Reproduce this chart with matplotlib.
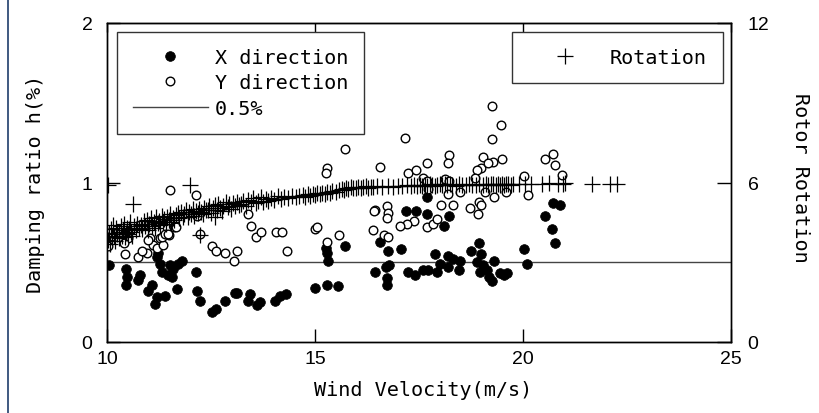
import matplotlib
matplotlib.use('Agg')
import matplotlib.pyplot as plt
from matplotlib.lines import Line2D

# damping ratio, X direction (filled circles)
x_dir_v = [10.05, 10.46, 10.48, 10.46, 10.79, 10.75, 11.08, 10.99, 11.20, 11.15,
           11.39, 11.20, 11.27, 11.23, 11.51, 11.58, 11.32, 11.46, 11.56, 11.80,
           11.70, 11.68, 12.14, 12.16, 12.24, 12.52, 12.62, 12.84, 13.08, 13.12,
           13.44, 13.39, 13.60, 13.68, 14.04, 14.16, 14.30, 15.00, 15.29, 15.55,
           15.26, 15.29, 15.31, 15.72, 16.56, 16.75, 17.07, 16.44, 16.70, 16.78,
           16.73, 16.73, 17.24, 17.40, 17.60, 17.72, 17.93, 17.19, 17.43, 17.70,
           17.70, 18.22, 18.10, 17.88, 18.00, 18.20, 18.32, 18.49, 18.20, 18.46,
           18.75, 18.94, 19.00, 18.89, 19.04, 18.97, 19.13, 19.18, 19.25, 19.30,
           19.45, 19.55, 19.62, 20.02, 20.10, 20.53, 20.70, 20.77, 20.72, 20.89]
x_dir_h = [0.48, 0.46, 0.41, 0.36, 0.42, 0.39, 0.36, 0.32, 0.28, 0.24,
           0.29, 0.53, 0.49, 0.56, 0.48, 0.46, 0.44, 0.42, 0.41, 0.51,
           0.49, 0.33, 0.44, 0.32, 0.26, 0.19, 0.21, 0.26, 0.31, 0.31,
           0.30, 0.26, 0.23, 0.25, 0.26, 0.29, 0.30, 0.34, 0.36, 0.35,
           0.59, 0.56, 0.51, 0.60, 0.63, 0.57, 0.58, 0.44, 0.47, 0.48,
           0.40, 0.36, 0.44, 0.42, 0.45, 0.45, 0.44, 0.82, 0.82, 0.91,
           0.80, 0.79, 0.73, 0.55, 0.49, 0.54, 0.52, 0.51, 0.47, 0.45,
           0.57, 0.62, 0.55, 0.50, 0.48, 0.44, 0.45, 0.41, 0.38, 0.51,
           0.43, 0.42, 0.43, 0.58, 0.49, 0.79, 0.71, 0.62, 0.87, 0.86]

# damping ratio, Y direction (open circles)
y_dir_v = [15.72, 15.29, 15.26, 11.51, 12.14, 13.39, 13.46, 13.58, 13.70, 14.06,
           14.20, 14.33, 15.00, 15.05, 15.29, 15.58, 12.52, 12.62, 12.84, 13.12,
           13.05, 10.03, 10.43, 10.75, 10.96, 10.84, 11.03, 11.10, 11.20, 11.27,
           11.35, 11.32, 11.50, 11.39, 11.60, 10.50, 10.40, 12.16, 11.66, 12.24,
           10.99, 11.47, 19.25, 19.47, 19.25, 17.16, 16.56, 17.24, 17.43, 17.70,
           18.22, 18.20, 19.04, 19.28, 19.50, 18.99, 18.89, 19.16, 20.02, 20.53,
           20.72, 20.77, 20.94, 17.60, 17.70, 18.13, 18.22, 17.72, 18.20, 18.49,
           18.85, 19.09, 19.30, 19.60, 18.73, 18.94, 19.00, 18.92, 20.12, 18.03,
           18.32, 16.44, 16.42, 16.73, 16.75, 16.73, 17.38, 17.21, 17.04, 17.70,
           17.84, 17.93, 16.40, 16.66, 16.76]
y_dir_h = [1.21, 1.09, 1.06, 0.95, 0.92, 0.80, 0.73, 0.66, 0.69, 0.69,
           0.69, 0.57, 0.71, 0.72, 0.63, 0.67, 0.60, 0.57, 0.56, 0.57,
           0.51, 0.60, 0.55, 0.53, 0.56, 0.57, 0.65, 0.61, 0.59, 0.65,
           0.61, 0.66, 0.67, 0.68, 0.72, 0.65, 0.62, 0.79, 0.72, 0.68,
           0.64, 0.68, 1.48, 1.36, 1.27, 1.28, 1.10, 1.06, 1.08, 1.12,
           1.17, 1.12, 1.16, 1.13, 1.15, 1.09, 1.08, 1.12, 1.04, 1.15,
           1.18, 1.11, 1.05, 1.03, 1.01, 1.02, 1.01, 0.96, 0.93, 0.94,
           1.03, 0.94, 0.91, 0.94, 0.84, 0.88, 0.86, 0.80, 0.92, 0.86,
           0.86, 0.83, 0.82, 0.85, 0.81, 0.78, 0.76, 0.74, 0.73, 0.72,
           0.74, 0.77, 0.70, 0.67, 0.66]

# rotor rotation (plus markers, right axis)
rot_v = [10.02, 10.05, 10.08, 10.10, 10.12, 10.15, 10.18, 10.20, 10.22, 10.25,
         10.28, 10.30, 10.33, 10.35, 10.38, 10.40, 10.43, 10.45, 10.48, 10.50,
         10.53, 10.55, 10.58, 10.60, 10.65, 10.70, 10.73, 10.78,
         10.82, 10.85, 10.88, 10.92, 10.95, 10.98, 11.02, 11.05, 11.08, 11.12,
         11.15, 11.18, 11.22, 11.25, 11.28, 11.32, 11.35, 11.38, 11.42, 11.45,
         11.48, 11.52, 11.55, 11.58,
         11.62, 11.66, 11.70, 11.74, 11.78, 11.82, 11.86, 11.90, 11.94, 11.98,
         12.02, 12.06, 12.10, 12.14, 12.18, 12.22, 12.26, 12.30, 12.34, 12.38,
         12.42, 12.46, 12.50, 12.55, 12.60, 12.64, 12.68, 12.72, 12.76, 12.80,
         12.85, 12.90, 12.94, 12.98, 13.02, 13.07, 13.12, 13.17,
         13.22, 13.28, 13.34, 13.40, 13.46, 13.52, 13.58, 13.64, 13.70, 13.76,
         13.82, 13.88, 13.95, 14.02, 14.10, 14.18, 14.26, 14.34, 14.44, 14.55,
         14.62, 14.70, 14.76, 14.82, 14.88, 14.94, 15.00, 15.06, 15.12, 15.18,
         15.24, 15.30, 15.36, 15.42, 15.50, 15.58,
         15.64, 15.70, 15.75, 15.80, 15.86, 15.92, 15.98, 16.04, 16.10, 16.16,
         16.22, 16.28, 16.34, 16.40,
         16.50, 16.62, 16.75, 16.88, 17.00, 17.10, 17.20, 17.30, 17.38, 17.46,
         17.52, 17.58, 17.64, 17.70, 17.76, 17.82, 17.88, 17.94, 18.00, 18.06,
         18.12, 18.18, 18.24, 18.30, 18.38, 18.46, 18.54, 18.62, 18.70, 18.78,
         18.86, 18.94,
         19.04, 19.10, 19.16, 19.22, 19.28, 19.34, 19.40, 19.45, 19.50, 19.55,
         19.60, 19.65, 19.70, 19.76,
         19.90, 20.05, 20.20, 20.46, 20.62, 20.84, 20.95, 21.02,
         10.02, 10.63, 12.00, 12.24, 12.60, 21.66, 22.09, 22.26]
rot_r = [3.85, 4.10, 3.70, 4.25, 3.95, 4.40, 4.00, 3.80, 4.30, 4.05,
         4.15, 3.90, 4.35, 4.00, 4.20, 4.45, 3.95, 4.10, 4.30, 4.05,
         4.25, 4.50, 4.15, 3.98, 4.35, 4.20, 4.45, 4.30,
         4.40, 4.25, 4.55, 4.35, 4.60, 4.20, 4.45, 4.65, 4.38, 4.50,
         4.30, 4.70, 4.48, 4.55, 4.40, 4.75, 4.52, 4.62, 4.45, 4.70,
         4.58, 4.80, 4.50, 4.68,
         4.60, 4.78, 4.85, 4.65, 4.90, 4.72, 4.80, 4.95, 4.70, 4.88,
         4.82, 5.00, 4.75, 4.92, 4.85, 5.02, 4.90, 4.80, 5.05, 4.95,
         4.95, 5.10, 4.85, 5.05, 5.15, 4.98, 5.20, 5.05, 4.92, 5.12,
         5.25, 5.08, 5.18, 5.00, 5.22, 5.10, 5.28, 5.15,
         5.20, 5.30, 5.12, 5.35, 5.25, 5.40, 5.22, 5.32, 5.45, 5.28,
         5.38, 5.30, 5.42, 5.35, 5.48, 5.38, 5.45, 5.40, 5.50, 5.45,
         5.48, 5.52, 5.45, 5.55, 5.50, 5.58, 5.52, 5.60, 5.55, 5.62,
         5.58, 5.65, 5.60, 5.68, 5.65, 5.72,
         5.75, 5.72, 5.80, 5.76, 5.82, 5.78, 5.80, 5.84, 5.79, 5.82,
         5.86, 5.80, 5.84, 5.82,
         5.85, 5.82, 5.86, 5.84, 5.88, 5.86, 5.90, 5.87, 5.90, 5.88,
         5.90, 5.86, 5.92, 5.88, 5.94, 5.90, 5.86, 5.92, 5.95, 5.89,
         5.93, 5.90, 5.96, 5.91, 5.88, 5.94, 5.92, 5.90, 5.95, 5.92,
         5.89, 5.94,
         5.92, 5.95, 5.90, 5.93, 5.96, 5.91, 5.94, 5.92, 5.95, 5.90,
         5.93, 5.96, 5.92, 5.94,
         5.94, 5.95, 5.96, 5.95, 5.97, 5.96, 5.94, 5.97,
         5.92, 5.21, 5.89, 4.02, 4.70, 5.93, 5.93, 5.94]

ref_h = 0.5
x_ticks = [10, 15, 20, 25]
h_ticks = [0, 1, 2]
r_ticks = [0, 6, 12]

mono = 'DejaVu Sans Mono'
num = 'Liberation Sans'

fig = plt.figure(figsize=(8.19, 4.14), dpi=100)
ax = fig.add_axes([107/819, 71/414, 624/819, 319/414])
ax2 = ax.twinx()

ref_line = ax.axhline(ref_h, color='#444444', lw=1.0, label='0.5%', zorder=1)
xs, = ax.plot(x_dir_v, x_dir_h, 'o', ms=7, mfc='black', mec='black', mew=0.5,
              label='X direction', zorder=3)
ys, = ax.plot(y_dir_v, y_dir_h, 'o', ms=6.2, mfc='white', mec='black', mew=1.0,
              label='Y direction', zorder=4)
ax2.plot(rot_v, rot_r, '+', ms=11.5, mew=0.9, color='black',
         label='Rotation')

ax.set_xlim(10, 25)
ax.set_ylim(0, 2)
ax2.set_ylim(0, 12)
ax.set_xticks(x_ticks)
ax.set_yticks(h_ticks)
ax2.set_yticks(r_ticks)

for a in (ax, ax2):
    for s in a.spines.values():
        s.set_linewidth(1.0)
ax.tick_params(axis='both', direction='in', length=9.5, width=1.0,
               labelsize=14, colors='black')
ax.tick_params(axis='y', pad=10.5)
ax.tick_params(axis='x', pad=6)
ax2.tick_params(axis='y', direction='in', length=10, width=1.0,
                labelsize=14, pad=12)
for lab in ax.get_xticklabels() + ax.get_yticklabels() + ax2.get_yticklabels():
    lab.set_fontfamily(num)

top = ax.secondary_xaxis('top')
top.set_xticks(x_ticks)
top.tick_params(direction='in', length=6.5, width=1.0, labeltop=False)

ax.set_xlabel('Wind Velocity(m/s)', fontsize=14.5, family=mono, va='center')
ax.xaxis.set_label_coords(0.507, -0.15)
ax.set_ylabel('Damping ratio h(%)', fontsize=14.5, family=mono, va='center')
ax.yaxis.set_label_coords(-0.115, 0.5)
ax2.set_ylabel('Rotor Rotation', fontsize=14.5, family=mono, rotation=-90,
               va='center')
ax2.yaxis.set_label_coords(1.111, 0.517)

leg_kw = dict(borderaxespad=0, prop={'family': mono, 'size': 14.5},
              handlelength=3.7, handletextpad=0.35, borderpad=0.8,
              labelspacing=0.32, fancybox=False, framealpha=1,
              edgecolor='#333333')
leg1 = ax.legend([xs, ys, ref_line], ['X direction', 'Y direction', '0.5%'],
                 loc='upper left', bbox_to_anchor=(0.016, 0.972), **leg_kw)
leg1.get_frame().set_linewidth(1.0)
leg1.set_zorder(10)
leg2 = ax2.legend(loc='upper right', bbox_to_anchor=(0.987, 0.972), **leg_kw)
leg2.get_frame().set_linewidth(1.0)

# page border on the left edge
fig.add_artist(Line2D([7.5/819, 7.5/819], [0, 1], color='#1f3d6b', lw=1.2))

fig.savefig('out.png', dpi=100)
